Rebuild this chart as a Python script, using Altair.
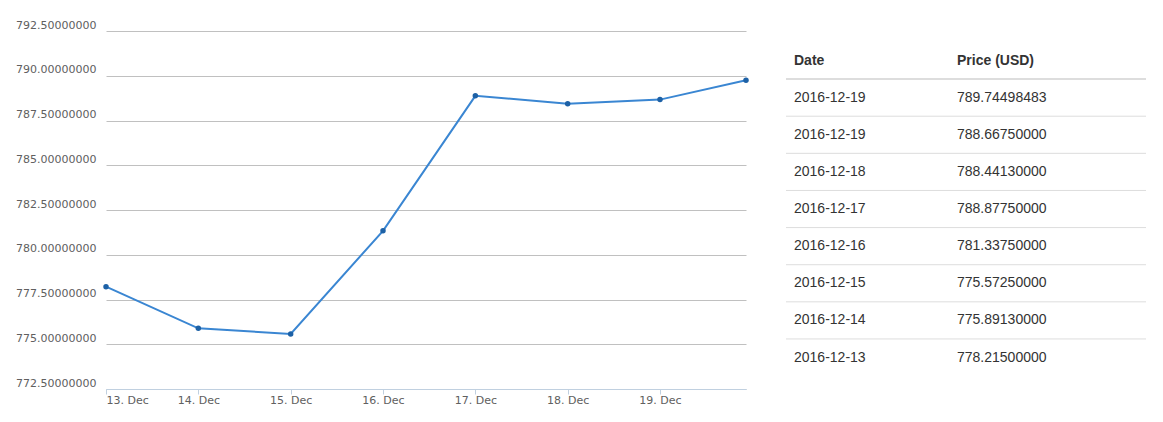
import altair as alt
import pandas as pd

# ---- line chart data ----
chart_times = [
    "2016-12-13T00:00:00Z", "2016-12-14T00:00:00Z", "2016-12-15T00:00:00Z",
    "2016-12-16T00:00:00Z", "2016-12-17T00:00:00Z", "2016-12-18T00:00:00Z",
    "2016-12-19T00:00:00Z", "2016-12-19T22:21:00Z",
]
chart_prices = [778.215, 775.8913, 775.5725, 781.3375, 788.8775, 788.4413, 788.6675, 789.74498483]
y_ticks = [772.5, 775.0, 777.5, 780.0, 782.5, 785.0, 787.5, 790.0, 792.5]

# ---- table data ----
table_columns = ["Date", "Price (USD)"]
table_dates = ["2016-12-19", "2016-12-19", "2016-12-18", "2016-12-17",
               "2016-12-16", "2016-12-15", "2016-12-14", "2016-12-13"]
table_prices = ["789.74498483", "788.66750000", "788.44130000", "788.87750000",
                "781.33750000", "775.57250000", "775.89130000", "778.21500000"]

line_df = pd.DataFrame({"t": chart_times, "price": chart_prices})

cells = []
for c in table_columns:
    cells.append({"row": 0, "col": c, "text": c})
for i, (d, p) in enumerate(zip(table_dates, table_prices)):
    cells.append({"row": i + 1, "col": table_columns[0], "text": d})
    cells.append({"row": i + 1, "col": table_columns[1], "text": p})
cells_df = pd.DataFrame(cells)

seps = pd.DataFrame({
    "row": [r + 0.5 for r in range(len(table_dates))],
    "w": [2] + [1] * (len(table_dates) - 1),
})

FONT_AX = "DejaVu Sans"
FONT_TB = "Liberation Sans"

x_enc = alt.X(
    "t:T",
    scale=alt.Scale(type="utc"),
    axis=alt.Axis(
        title=None, format="%-d. %b", tickCount="day", grid=False,
        domainColor="#c0d0e0", tickColor="#c0d0e0", tickSize=5,
        labelPadding=0, labelFlush=True, labelFont=FONT_AX, labelFontSize=11,
        labelColor="#606060", labelBaseline="top",
    ),
)
y_enc = alt.Y(
    "price:Q",
    scale=alt.Scale(domain=[y_ticks[0], y_ticks[-1]], nice=False, zero=False),
    axis=alt.Axis(
        title=None, values=y_ticks, format=".8f", ticks=False, domain=False,
        gridColor="#c0c0c0", gridWidth=1, labelPadding=10, labelOffset=-6,
        labelFont=FONT_AX, labelFontSize=11, labelColor="#606060",
    ),
)

base = alt.Chart(line_df).encode(x=x_enc, y=y_enc)
line = base.mark_line(color="#3a86d2", strokeWidth=2)
pts = base.mark_point(filled=True, size=30, color="#1d61a6", opacity=1)
line_chart = (line + pts).properties(width=640, height=358)

ty = alt.Y("row:Q", scale=alt.Scale(domain=[-0.795, 8.848], reverse=True), axis=None)
tx = alt.X("col:N", scale=alt.Scale(type="point", domain=table_columns,
                                    range=[0, 163], padding=0),
           axis=None)

tbase = alt.Chart(cells_df)
header = tbase.transform_filter("datum.row == 0").mark_text(
    align="left", baseline="middle", dx=8, font=FONT_TB, fontSize=14,
    fontWeight="bold", color="#333333",
).encode(x=tx, y=ty, text="text:N")
body = tbase.transform_filter("datum.row > 0").mark_text(
    align="left", baseline="middle", dx=8, font=FONT_TB, fontSize=14,
    color="#333333",
).encode(x=tx, y=ty, text="text:N")
rules = alt.Chart(seps).mark_rule(color="#dddddd").encode(
    x=alt.value(0), x2=alt.value(360), y=ty,
    strokeWidth=alt.StrokeWidth("w:Q", scale=None),
)
table = alt.layer(rules, header, body).properties(width=360, height=358)

chart = alt.hconcat(line_chart, table, spacing=40, bounds="flush").properties(
    padding={"left": 7, "top": 11, "right": 5, "bottom": 5}
).configure_view(stroke=None).resolve_scale(x="independent", y="independent")

chart.save("out.html", embed_options={"renderer": "svg", "actions": False})
